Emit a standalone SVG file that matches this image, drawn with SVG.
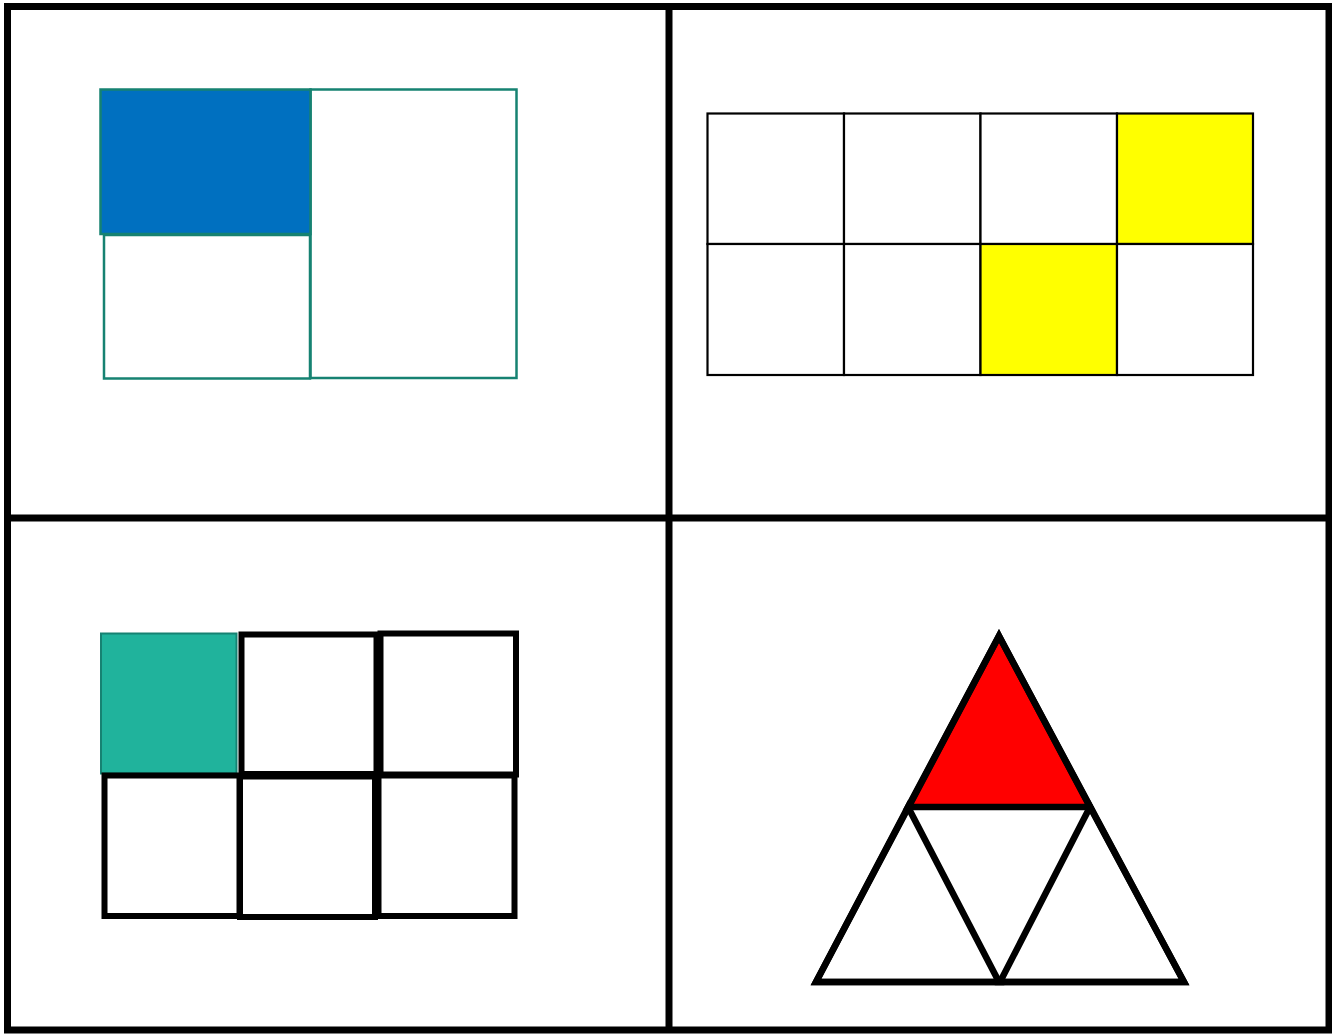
<svg xmlns="http://www.w3.org/2000/svg" width="1332" height="1034" viewBox="0 0 1332 1034">
<style>
.frame{fill:none;stroke:#000;stroke-width:7}
.tl{stroke:#168272;stroke-width:2.5}
.grid{fill:#fff;stroke:#000;stroke-width:2.2}
.sq{fill:#fff;stroke:#000;stroke-width:6}
.tri{stroke:#000;stroke-width:6.5;stroke-linejoin:miter}
</style>
<rect width="1332" height="1034" fill="#fff"/>
<g id="frame">
<rect class="frame" x="7.5" y="6.5" width="1321.5" height="1023.5"/>
<line class="frame" x1="669" y1="6" x2="669" y2="1030"/>
<line class="frame" x1="7" y1="518" x2="1329" y2="518"/>
</g>
<g id="panel-top-left">
<rect class="tl" x="310.5" y="89.5" width="206" height="288.5" fill="#fff"/>
<rect class="tl" x="104" y="235" width="206" height="143.5" fill="#fff"/>
<rect class="tl" x="100.5" y="89.5" width="210" height="144.5" fill="#0070C0"/>
</g>
<g id="panel-top-right">
<rect class="grid" x="707.5" y="113.5" width="136.5" height="130.5"/>
<rect class="grid" x="844" y="113.5" width="136.5" height="130.5"/>
<rect class="grid" x="980.5" y="113.5" width="136.5" height="130.5"/>
<rect class="grid" x="1117" y="113.5" width="136" height="130.5" style="fill:#FFFF00"/>
<rect class="grid" x="707.5" y="244" width="136.5" height="131"/>
<rect class="grid" x="844" y="244" width="136.5" height="131"/>
<rect class="grid" x="980.5" y="244" width="136.5" height="131" style="fill:#FFFF00"/>
<rect class="grid" x="1117" y="244" width="136" height="131"/>
</g>
<g id="panel-bottom-left">
<rect x="101" y="633.5" width="135.5" height="140" fill="#20B39C" stroke="#168272" stroke-width="2"/>
<rect class="sq" x="241.5" y="634.5" width="135" height="139.5"/>
<rect class="sq" x="380.5" y="633.5" width="135.5" height="141"/>
<rect class="sq" x="104.5" y="775.5" width="135" height="140.5"/>
<rect class="sq" x="240" y="776.5" width="135" height="140.5"/>
<rect class="sq" x="378.5" y="775.5" width="136" height="140.5"/>
</g>
<g id="panel-bottom-right">
<polygon class="tri" points="999,636 1090,807 908,807" fill="#FF0000"/>
<polygon class="tri" points="908,807 999,982 816,982" fill="#fff"/>
<polygon class="tri" points="1090,807 1184,982 1000,982" fill="#fff"/>
<polygon class="tri" points="999,636 1184,982 816,982" fill="none"/>
</g>
</svg>
